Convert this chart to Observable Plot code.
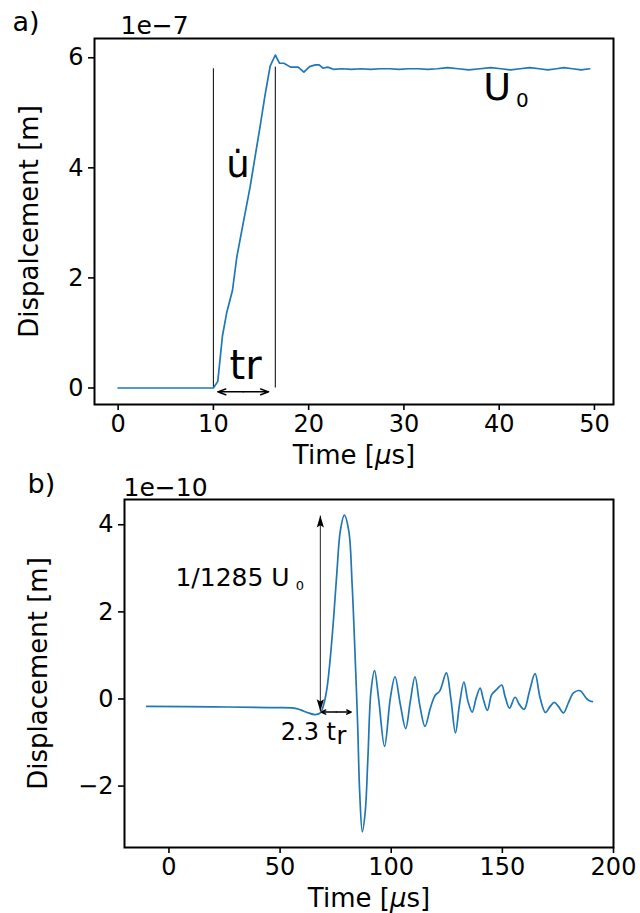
<!DOCTYPE html>
<html><head><meta charset="utf-8">
<script src="https://cdn.jsdelivr.net/npm/d3@7"></script>
<script src="https://cdn.jsdelivr.net/npm/@observablehq/plot@0.6"></script>
<style>
body{margin:0;background:#fff;}
#wrap{position:relative;width:640px;height:913px;font-family:"DejaVu Sans",sans-serif;}
#pa,#pb{position:absolute;left:0;}
#pa{top:0px}
#pb{top:460px}
</style></head><body><div id="wrap"><div id="pa"></div><div id="pb"></div></div>
<script>
// ---------- Panel a data ----------
const timeA = [0,10,10.46,10.95,11.4,12.0,12.46,12.98,13.86,14.9,15.4,15.96,16.5,16.95,17.4,18.1,18.9,19.5,20.1,20.7,21.1,21.5,22.0,22.6,
  23.5,24.5,25.5,26.5,27.5,28.5,29.5,30.5,31.5,32.5,33.5,34.6,35.7,36.8,38.0,39.1,40.2,41.2,42.2,43.2,44.2,45.1,46.0,46.8,47.7,48.6,49.5];
const dispA = [0,0,0.12,0.945,1.37,1.77,2.38,2.86,3.66,4.75,5.30,5.85,6.05,5.90,5.90,5.83,5.83,5.74,5.84,5.87,5.87,5.81,5.83,5.79,
  5.80,5.79,5.80,5.79,5.80,5.80,5.79,5.80,5.80,5.79,5.80,5.82,5.80,5.78,5.80,5.82,5.80,5.78,5.80,5.82,5.80,5.78,5.80,5.82,5.80,5.78,5.80];
const xTicksA = [0,10,20,30,40,50];
const yTicksA = [0,2,4,6];
const ruleTimesA = [10,16.5];
const ruleTopsA = [5.80,5.83];
const trArrowA = [10.46,15.8];   // start, end time of t_r arrow
const trArrowYA = -0.07;

// ---------- Panel b data ----------
const timeB = [-10,20,45,56.2,59.2,62.2,65.8,68.1,69.6,71.1,72.6,74.1,75.6,77.1,78.9,80.9,82.4,83.9,84.9,85.8,87.0,88.3,89.5,90.9,92.5,94.3,97.0,99.6,101.7,104.1,106.5,108.6,110.7,112.8,115.2,117.6,119.8,121.8,124.8,126.8,128.9,130.7,132.7,134.5,136.4,138.2,140.0,141.5,143.3,145.2,147.5,149.7,151.2,153.2,155.7,157.7,159.8,162.2,164.7,167.0,169.4,171.5,173.4,175.2,177.5,179.7,182.0,185.0,187.7,189.2,190.5];
const dispB = [-0.17,-0.18,-0.20,-0.21,-0.25,-0.31,-0.36,-0.32,-0.13,0.25,0.95,1.87,2.94,3.86,4.22,3.86,2.64,0.79,-0.59,-2.13,-3.05,-2.59,-1.36,0.18,0.65,0.02,-1.09,0.02,0.51,-0.13,-0.68,-0.05,0.51,-0.13,-0.63,-0.21,0.085,0.18,0.60,0.02,-0.78,-0.13,0.39,-0.05,-0.30,0.02,0.25,-0.02,-0.26,0.10,0.22,0.32,0.06,-0.21,0.04,-0.13,-0.24,0.18,0.58,0.02,-0.31,-0.17,-0.08,-0.17,-0.32,-0.09,0.14,0.19,0.02,-0.04,-0.06];
const xTicksB = [0,50,100,150,200];
const yTicksB = [-2,0,2,4];
const ampArrowB = {t: 68.1, lo: -0.28, hi: 4.21};
const durArrowB = {t1: 68.5, t2: 82.0, y: -0.30};

// ---------- common ----------
const blue = "#1f77b4";
const style = {background:"transparent", overflow:"visible", fontFamily:"DejaVu Sans", color:"black"};
const fmt = d => d < 0 ? "\u2212" + Math.abs(d) : String(d);
const tickFont = 24, labelFont = 26;
const xLabel = "Time [\u03bcs]";

const headSym = {draw(ctx, size){
  const r = Math.sqrt(size/Math.PI);
  ctx.moveTo(0,0); ctx.lineTo(r*0.6, r*2); ctx.lineTo(0, r*1.6); ctx.lineTo(-r*0.6, r*2); ctx.closePath();
}};

function italicMu(svg){
  svg.querySelectorAll("text").forEach(t => {
    if (t.textContent === xLabel) {
      t.innerHTML = 'Time [<tspan font-style="italic">\u03bc</tspan>s]';
    }
  });
}

// ---------- Panel a ----------
const dataA = timeA.map((t,i)=>({t, d: dispA[i]}));
const rulesA = ruleTimesA.map((t,i)=>({t, top: ruleTopsA[i]}));
const midA = (trArrowA[0]+trArrowA[1])/2;
const arrowsA = trArrowA.map(e=>({x1: midA, x2: e, y: trArrowYA}));

const plotA = Plot.plot({
  width:640, height:470, marginTop:38, marginBottom:66, marginLeft:94, marginRight:27,
  style,
  x:{domain:[-2.48, 52.0]},
  y:{domain:[-0.30, 6.35]},
  marks:[
    Plot.axisX({ticks:xTicksA, tickSize:6, tickPadding:4, fontSize:tickFont, strokeWidth:1.6, label:null, tickFormat:fmt}),
    Plot.axisY({ticks:yTicksA, tickSize:6, tickPadding:5, fontSize:tickFont, strokeWidth:1.6, label:null, tickFormat:fmt}),
    Plot.ruleX(rulesA, {x:"t", y1:0, y2:"top", stroke:"black", strokeWidth:1}),
    Plot.line(dataA, {x:"t", y:"d", stroke:blue, strokeWidth:1.7}),
    Plot.arrow(arrowsA, {x1:"x1", x2:"x2", y1:"y", y2:"y", stroke:"black", strokeWidth:1.5, headLength:13, headAngle:40}),
    Plot.text(["tr"], {x:11.69, y:0.39, textAnchor:"start", fontSize:40}),
    Plot.text(["u\u0307"], {x:12.58, y:4.05, fontSize:37}),
    Plot.text(["U"], {x:39.78, y:5.45, fontSize:38}),
    Plot.text(["0"], {x:42.43, y:5.22, fontSize:20}),
    Plot.text(["1e\u22127"], {frameAnchor:"top-left", dx:26, dy:-13, textAnchor:"start", lineAnchor:"middle", fontSize:25}),
    Plot.text(["a)"], {frameAnchor:"top-left", dx:-82, dy:-16, textAnchor:"start", lineAnchor:"middle", fontSize:27}),
    Plot.text([xLabel], {frameAnchor:"bottom", dy:51, lineAnchor:"middle", textAnchor:"middle", fontSize:labelFont}),
    Plot.text(["Dispalcement [m]"], {frameAnchor:"left", dx:-65, rotate:-90, textAnchor:"middle", lineAnchor:"middle", fontSize:labelFont}),
    Plot.frame({stroke:"black", strokeWidth:2})
  ]
});
italicMu(plotA);
document.getElementById("pa").appendChild(plotA);

// ---------- Panel b ----------
const dataB = timeB.map((t,i)=>({t, d: dispB[i]}));
const midB = (durArrowB.t1+durArrowB.t2)/2;
const arrowsB = [durArrowB.t1, durArrowB.t2].map(e=>({x1: midB, x2: e, y: durArrowB.y}));
const headsB = [{t: ampArrowB.t, y: ampArrowB.hi, r: 0}, {t: ampArrowB.t, y: ampArrowB.lo, r: 180}];

const plotB = Plot.plot({
  width:640, height:453, marginTop:39, marginBottom:66, marginLeft:124, marginRight:27,
  style,
  x:{domain:[-20, 200]},
  y:{domain:[-3.41, 4.58]},
  marks:[
    Plot.axisX({ticks:xTicksB, tickSize:6, tickPadding:4, fontSize:tickFont, strokeWidth:1.6, label:null, tickFormat:fmt}),
    Plot.axisY({ticks:yTicksB, tickSize:6, tickPadding:5, fontSize:tickFont, strokeWidth:1.6, label:null, tickFormat:fmt}),
    Plot.line(dataB, {x:"t", y:"d", stroke:blue, strokeWidth:1.7, curve:"catmull-rom"}),
    Plot.link([ampArrowB], {x1:"t", x2:"t", y1:"lo", y2:"hi", stroke:"#222", strokeWidth:1}),
    Plot.dot(headsB, {x:"t", y:"y", rotate:"r", symbol:headSym, r:6, fill:"black", stroke:"none"}),
    Plot.arrow(arrowsB, {x1:"x1", x2:"x2", y1:"y", y2:"y", stroke:"black", strokeWidth:1.4, headLength:9, headAngle:50}),
    Plot.text(["1/1285 U"], {x:2.9, y:2.78, textAnchor:"start", fontSize:25}),
    Plot.text(["0"], {x:58.9, y:2.60, fontSize:13}),
    Plot.text(["2.3 t"], {x:50.3, y:-0.77, textAnchor:"start", fontSize:24}),
    Plot.text(["r"], {x:75.4, y:-0.86, textAnchor:"start", fontSize:24}),
    Plot.text(["1e\u221210"], {frameAnchor:"top-left", dx:-1, dy:-12, textAnchor:"start", lineAnchor:"middle", fontSize:25}),
    Plot.text(["b)"], {frameAnchor:"top-left", dx:-97, dy:-15, textAnchor:"start", lineAnchor:"middle", fontSize:27}),
    Plot.text([xLabel], {frameAnchor:"bottom", dy:51, lineAnchor:"middle", textAnchor:"middle", fontSize:labelFont}),
    Plot.text(["Displacement [m]"], {frameAnchor:"left", dx:-86, rotate:-90, textAnchor:"middle", lineAnchor:"middle", fontSize:labelFont}),
    Plot.frame({stroke:"black", strokeWidth:2})
  ]
});
italicMu(plotB);
document.getElementById("pb").appendChild(plotB);
</script></body></html>
